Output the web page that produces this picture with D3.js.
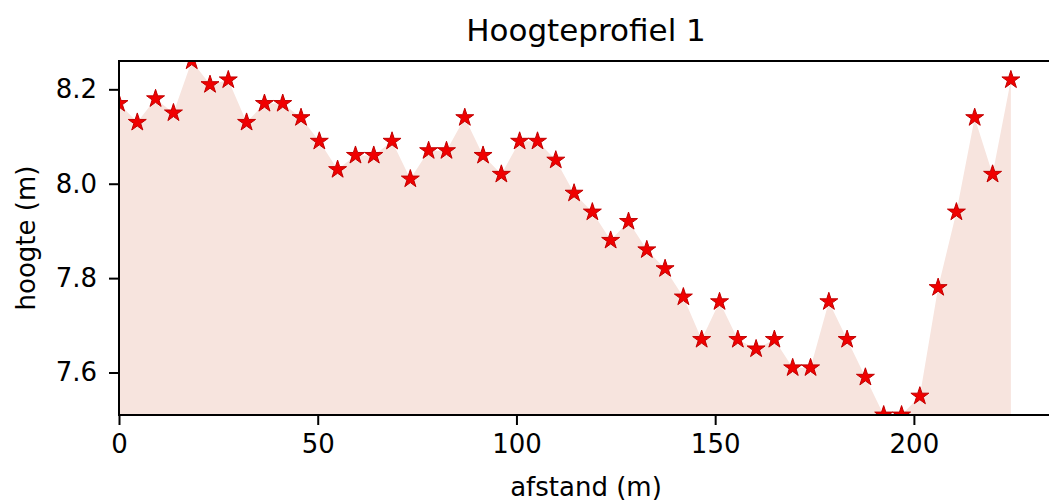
<!DOCTYPE html>
<html>
<head>
<meta charset="utf-8">
<script src="https://cdn.jsdelivr.net/npm/d3@7"></script>
<style>
  html, body { margin: 0; padding: 0; background: #fff; }
  svg { display: block; }
  text { font-family: "DejaVu Sans", sans-serif; fill: #000; }
</style>
</head>
<body>
<svg id="chart" width="1049" height="501"></svg>
<script>
// ---- data ----
const afstand = [0, 4.6, 9.2, 13.7, 18.3, 22.9, 27.5, 32.1, 36.6, 41.2,
  45.8, 50.4, 55.0, 59.5, 64.1, 68.7, 73.3, 77.9, 82.4, 87.0,
  91.6, 96.2, 100.8, 105.3, 109.9, 114.5, 119.1, 123.7, 128.2, 132.8,
  137.4, 142.0, 146.6, 151.1, 155.7, 160.3, 164.9, 169.5, 174.0, 178.6,
  183.2, 187.8, 192.4, 196.9, 201.5, 206.1, 210.7, 215.3, 219.8, 224.4];
const hoogte = [8.17, 8.13, 8.18, 8.15, 8.26, 8.21, 8.22, 8.13, 8.17, 8.17,
  8.14, 8.09, 8.03, 8.06, 8.06, 8.09, 8.01, 8.07, 8.07, 8.14,
  8.06, 8.02, 8.09, 8.09, 8.05, 7.98, 7.94, 7.88, 7.92, 7.86,
  7.82, 7.76, 7.67, 7.75, 7.67, 7.65, 7.67, 7.61, 7.61, 7.75,
  7.67, 7.59, 7.51, 7.51, 7.55, 7.78, 7.94, 8.14, 8.02, 8.22];
const xTicks = [0, 50, 100, 150, 200];
const yTicks = [7.6, 7.8, 8.0, 8.2];
const xDomain = [0, 235];
const yDomain = [7.51, 8.26];
const titel = "Hoogteprofiel 1";
const xLabel = "afstand (m)";
const yLabel = "hoogte (m)";

// ---- layout ----
const svg = d3.select("#chart");
const L = 119, R = 1053, T = 61, B = 415;
const x = d3.scaleLinear().domain(xDomain).range([L, R]);
const y = d3.scaleLinear().domain(yDomain).range([B, T]);
const data = afstand.map((d, i) => ({ x: d, y: hoogte[i] }));

svg.append("defs").append("clipPath").attr("id", "clip")
  .append("rect").attr("x", L).attr("y", T).attr("width", R - L).attr("height", B - T);

const plot = svg.append("g").attr("clip-path", "url(#clip)");

// filled area down to the bottom of the axes
const area = d3.area()
  .x(d => x(d.x))
  .y0(y(yDomain[0]))
  .y1(d => y(d.y));
plot.append("path").datum(data)
  .attr("d", area)
  .attr("fill", "#f7e4de");

// star markers
const star = d3.symbol().type(d3.symbolStar).size(100);
plot.selectAll("path.pt").data(data).enter().append("path")
  .attr("class", "pt")
  .attr("d", star)
  .attr("transform", d => `translate(${x(d.x)},${y(d.y)})`)
  .attr("fill", "#f00000")
  .attr("stroke", "#c00000")
  .attr("stroke-width", 1);

// axes
const xAxis = d3.axisBottom(x).tickValues(xTicks).tickFormat(d3.format("d"))
  .tickSize(10).tickPadding(10);
const yAxis = d3.axisLeft(y).tickValues(yTicks).tickFormat(d3.format(".1f"))
  .tickSize(10).tickPadding(12);

const gx = svg.append("g").attr("transform", `translate(0,${B})`).call(xAxis);
const gy = svg.append("g").attr("transform", `translate(${L},0)`).call(yAxis);
[gx, gy].forEach(g => {
  g.select(".domain").remove();
  g.selectAll(".tick line").attr("stroke", "#000").attr("stroke-width", 2);
  g.selectAll(".tick text").attr("font-size", 26).attr("fill", "#000")
    .style("font-family", "'DejaVu Sans', sans-serif");
});

// spines
svg.append("rect").attr("x", L).attr("y", T).attr("width", R - L).attr("height", B - T)
  .attr("fill", "none").attr("stroke", "#000").attr("stroke-width", 2);

// title and labels
svg.append("text").attr("x", (L + R) / 2).attr("y", 41)
  .attr("text-anchor", "middle").attr("font-size", 31).text(titel);
svg.append("text").attr("x", (L + R) / 2).attr("y", 496)
  .attr("text-anchor", "middle").attr("font-size", 26).text(xLabel);
svg.append("text")
  .attr("transform", `translate(35,${(T + B) / 2}) rotate(-90)`)
  .attr("text-anchor", "middle").attr("font-size", 26).text(yLabel);
</script>
</body>
</html>
